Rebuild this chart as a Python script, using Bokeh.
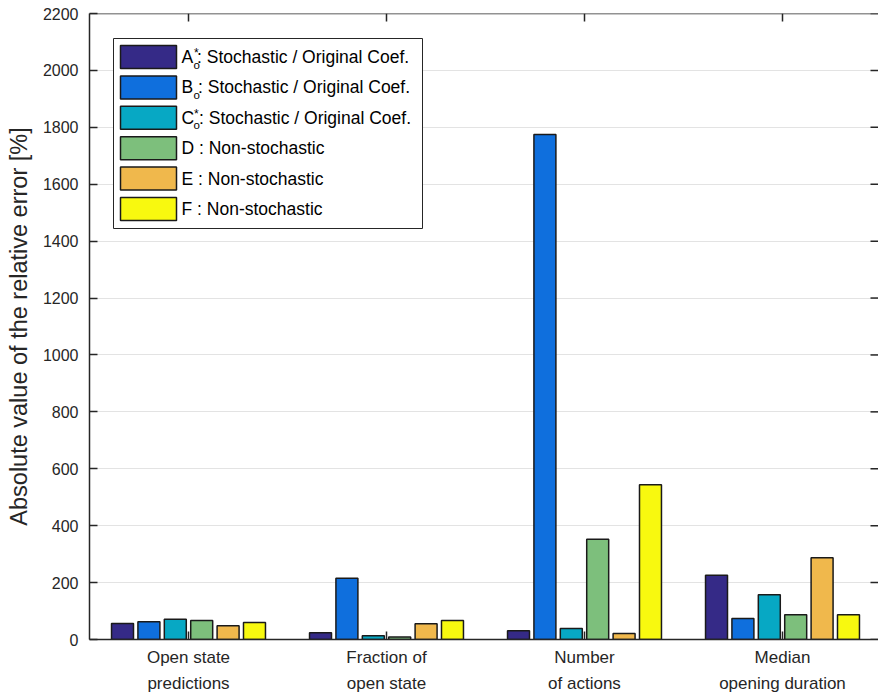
from bokeh.plotting import figure
from bokeh.models import ColumnDataSource, Range1d, FixedTicker, Span
from bokeh.core.properties import value
from bokeh.transform import dodge
from bokeh.embed import file_html
from bokeh.resources import INLINE

# ---------------- data ----------------
categories = ["Open state\npredictions", "Fraction of\nopen state",
              "Number\nof actions", "Median\nopening duration"]
cat_pos = [1, 2, 3, 4]

series_letters = ["A", "B", "C", "D", "E", "F"]
series_texts = ["  : Stochastic / Original Coef.",
                "  : Stochastic / Original Coef.",
                "  : Stochastic / Original Coef.",
                " : Non-stochastic",
                " : Non-stochastic",
                " : Non-stochastic"]
series_sup = ["*", "", "*", "", "", ""]
series_sub = ["o", "o", "o", "", "", ""]
A_vals = [56, 24, 31, 226]
B_vals = [62, 215, 1775, 74]
C_vals = [71, 13, 39, 157]
D_vals = [67, 9, 352, 87]
E_vals = [48, 55, 21, 287]
F_vals = [60, 67, 544, 87]
series_values = [A_vals, B_vals, C_vals, D_vals, E_vals, F_vals]
series_colors = ["#352A87", "#0F6FDD", "#07A8C4", "#7DBF7C", "#F0B84C", "#F8F90F"]
y_ticks = list(range(0, 2201, 200))

TXT = "#262626"
FONT = "Liberation Sans"

W, H = 878, 697
BORDER_L = 89
BORDER_T = 13
PX_X = 198.0            # pixels per category unit
X_END = 0.5 + (W - BORDER_L) / PX_X
Y_END = 2200
FRAME_H = 626.0
PX_Y = FRAME_H / Y_END  # pixels per y unit

p = figure(width=W, height=H,
           x_range=Range1d(0.5, X_END), y_range=Range1d(0, Y_END),
           output_backend="svg", toolbar_location=None,
           min_border_left=BORDER_L, min_border_right=0,
           min_border_top=BORDER_T, min_border_bottom=int(H - BORDER_T - FRAME_H))
p.outline_line_color = None
p.background_fill_color = "white"

# grid
p.xgrid.visible = False
p.ygrid.grid_line_color = "#E3E3E3"
p.ygrid.grid_line_width = 1
p.ygrid.ticker = FixedTicker(ticks=y_ticks)

# inward tick marks on top and right edges
tick_y = 8 / PX_Y
tick_x = 8 / PX_X
tsrc = ColumnDataSource(dict(x=cat_pos, t0=[Y_END] * 4, t1=[Y_END - tick_y] * 4))
p.segment(x0="x", x1="x", y0="t0", y1="t1", source=tsrc, line_color=TXT, line_width=1.5)
rsrc = ColumnDataSource(dict(y=y_ticks, x0=[X_END] * len(y_ticks),
                             x1=[X_END - tick_x] * len(y_ticks)))
p.segment(x0="x0", x1="x1", y0="y", y1="y", source=rsrc, line_color=TXT, line_width=1.5)

# bars
src = ColumnDataSource(dict(x=cat_pos, **{f"s{i}": v for i, v in enumerate(series_values)}))
step = 0.1333
width = 0.111
for i, col in enumerate(series_colors):
    p.vbar(x=dodge("x", (i - 2.5) * step, range=p.x_range), top=f"s{i}",
           width=width, bottom=0, source=src,
           fill_color=col, line_color="#1a1a1a", line_width=1.5)

# top box edge
p.add_layout(Span(location=Y_END, dimension="width", line_color=TXT, line_width=1.5))

# y axis (left)
ya = p.yaxis[0]
ya.ticker = FixedTicker(ticks=y_ticks)
ya.axis_label = "Absolute value of the relative error [%]"
ya.axis_label_text_font = FONT
ya.axis_label_text_font_size = "23.5px"
ya.axis_label_text_font_style = "normal"
ya.axis_label_text_color = TXT
ya.axis_label_standoff = 8
ya.major_label_text_font = FONT
ya.major_label_text_font_size = "16px"
ya.major_label_text_color = TXT
ya.major_label_standoff = 11
ya.major_tick_in = 8
ya.major_tick_out = 0
ya.minor_tick_line_color = None
ya.axis_line_width = 1.5
ya.axis_line_color = TXT
ya.major_tick_line_color = TXT
ya.major_tick_line_width = 1.5

# x axis (bottom)
xa = p.xaxis[0]
xa.ticker = FixedTicker(ticks=cat_pos)
xa.major_label_overrides = {k: lab for k, lab in zip(cat_pos, categories)}
xa.major_label_text_font = FONT
xa.major_label_text_font_size = "17px"
xa.major_label_text_color = TXT
xa.major_label_text_line_height = 1.4
xa.major_label_standoff = 8
xa.major_tick_in = 8
xa.major_tick_out = 0
xa.minor_tick_line_color = None
xa.axis_line_width = 1.5
xa.axis_line_color = TXT
xa.major_tick_line_color = TXT
xa.major_tick_line_width = 1.5

# ---------------- legend (drawn with glyphs so that the sub/superscripts show) ----------------
REF_LEFT = 91.0     # frame left in page pixels
REF_BOTTOM = 640.0  # frame bottom in page pixels


def dx(px):
    return 0.5 + (px - REF_LEFT) / PX_X


def dy(py):
    return (REF_BOTTOM - py) / PX_Y


box_l, box_r, box_t, box_b = 115, 424, 39, 229
p.quad(left=[dx(box_l)], right=[dx(box_r)], top=[dy(box_t)], bottom=[dy(box_b)],
       fill_color="white", line_color=TXT, line_width=1)

row_c = [57.5 + 30.4 * i for i in range(len(series_letters))]
p.quad(left=[dx(122)] * 6, right=[dx(178)] * 6,
       top=[dy(c - 11.5) for c in row_c], bottom=[dy(c + 11.5) for c in row_c],
       fill_color=series_colors, line_color="#1a1a1a", line_width=1.5)

p.text(x=[dx(183)] * 6, y=[dy(c) for c in row_c],
       text=[a + b for a, b in zip(series_letters, series_texts)],
       text_font=value(FONT), text_font_size=value("17.5px"),
       text_color="black", text_baseline="middle", text_align="left")

sup_rows = [c for c, s in zip(row_c, series_sup) if s]
p.text(x=[dx(195.5)] * len(sup_rows), y=[dy(c - 4) for c in sup_rows],
       text=[s for s in series_sup if s],
       text_font=value(FONT), text_font_size=value("12px"),
       text_color="black", text_baseline="middle", text_align="left")
sub_rows = [c for c, s in zip(row_c, series_sub) if s]
p.text(x=[dx(195)] * len(sub_rows), y=[dy(c + 7.5) for c in sub_rows],
       text=[s for s in series_sub if s],
       text_font=value(FONT), text_font_size=value("11.5px"),
       text_color="black", text_baseline="middle", text_align="left")

open("out.html", "w").write(file_html(p, INLINE))
